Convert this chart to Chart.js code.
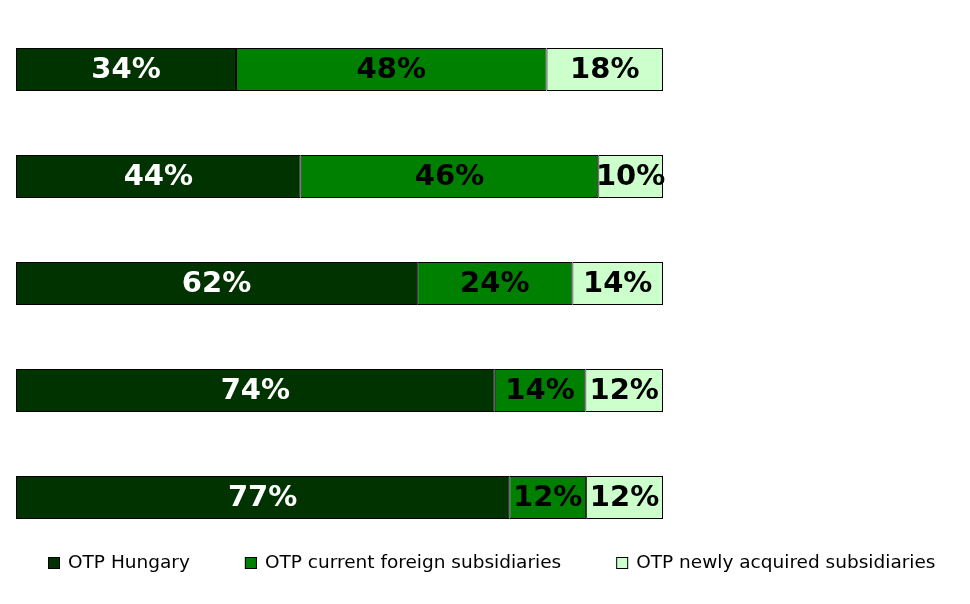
<!DOCTYPE html>
<html lang="en">
<head>
    <meta charset="UTF-8">
    <title>OTP profit structure</title>
    <script src="https://cdn.jsdelivr.net/npm/chart.js"></script>
    <style>
        html, body { margin: 0; padding: 0; background: #fff; }
        #wrap { width: 970px; height: 604px; }
    </style>
</head>
<body>
    <div id="wrap"><canvas id="shareChart"></canvas></div>

    <script>
        // one entry per bar, top to bottom
        const categories = ['1', '2', '3', '4', '5'];
        const seriesNames = ['OTP Hungary', 'OTP current foreign subsidiaries', 'OTP newly acquired subsidiaries'];
        const hungary = [34, 44, 62, 74, 77];
        const foreign = [48, 46, 24, 14, 12];
        const acquired = [18, 10, 14, 12, 12];
        const colors = ['#003300', '#008000', '#ccffcc'];
        const labelColors = ['#ffffff', '#000000', '#000000'];

        const rawSeries = [hungary, foreign, acquired];
        // each bar fills the full width (rounded shares do not always add up to 100)
        const totals = categories.map((c, i) => hungary[i] + foreign[i] + acquired[i]);

        const datasets = rawSeries.map((vals, s) => ({
            label: seriesNames[s],
            data: vals.map((v, i) => v / totals[i] * 100),
            shown: vals,
            backgroundColor: colors[s],
            borderColor: '#000000',
            borderWidth: 1,
            borderSkipped: false,
            inflateAmount: 0,
            barThickness: 43
        }));

        // percentage labels inside the segments
        const segmentLabels = {
            id: 'segmentLabels',
            afterDatasetsDraw(chart) {
                const ctx = chart.ctx;
                ctx.save();
                ctx.font = 'bold 29px "DejaVu Sans"';
                ctx.textAlign = 'center';
                ctx.textBaseline = 'middle';
                chart.data.datasets.forEach((ds, s) => {
                    const meta = chart.getDatasetMeta(s);
                    meta.data.forEach((bar, i) => {
                        const cx = (bar.x + bar.base) / 2;
                        ctx.fillStyle = labelColors[s];
                        ctx.fillText(ds.shown[i] + '%', cx, bar.y + 1);
                    });
                });
                ctx.restore();
            }
        };

        // legend row under the bars
        const bottomLegend = {
            id: 'bottomLegend',
            afterDraw(chart) {
                const ctx = chart.ctx;
                const y = 563;
                const box = 12;
                const gap = 55;
                ctx.save();
                ctx.font = '18.5px "DejaVu Sans"';
                ctx.textBaseline = 'middle';
                ctx.textAlign = 'left';
                let x = 48;
                chart.data.datasets.forEach((ds) => {
                    ctx.fillStyle = ds.backgroundColor;
                    ctx.fillRect(x, y - box / 2, box, box);
                    ctx.strokeStyle = '#000';
                    ctx.lineWidth = 1;
                    ctx.strokeRect(x + 0.5, y - box / 2 + 0.5, box - 1, box - 1);
                    ctx.fillStyle = '#000';
                    ctx.fillText(ds.label, x + box + 8, y);
                    x += box + 8 + ctx.measureText(ds.label).width + gap;
                });
                ctx.restore();
            }
        };

        const ctx = document.getElementById('shareChart').getContext('2d');
        new Chart(ctx, {
            type: 'bar',
            data: { labels: categories, datasets: datasets },
            options: {
                indexAxis: 'y',
                responsive: true,
                maintainAspectRatio: false,
                animation: false,
                layout: { padding: { left: 16, right: 0, top: 16, bottom: 53 } },
                plugins: {
                    legend: { display: false },
                    tooltip: { enabled: false }
                },
                scales: {
                    x: { stacked: true, display: false, min: 0, max: 100 },
                    y: {
                        stacked: true,
                        position: 'right',
                        grid: { display: false },
                        border: { display: false },
                        ticks: { display: false },
                        afterFit(scale) { scale.width = 307; }
                    }
                }
            },
            plugins: [segmentLabels, bottomLegend]
        });
    </script>
</body>
</html>
